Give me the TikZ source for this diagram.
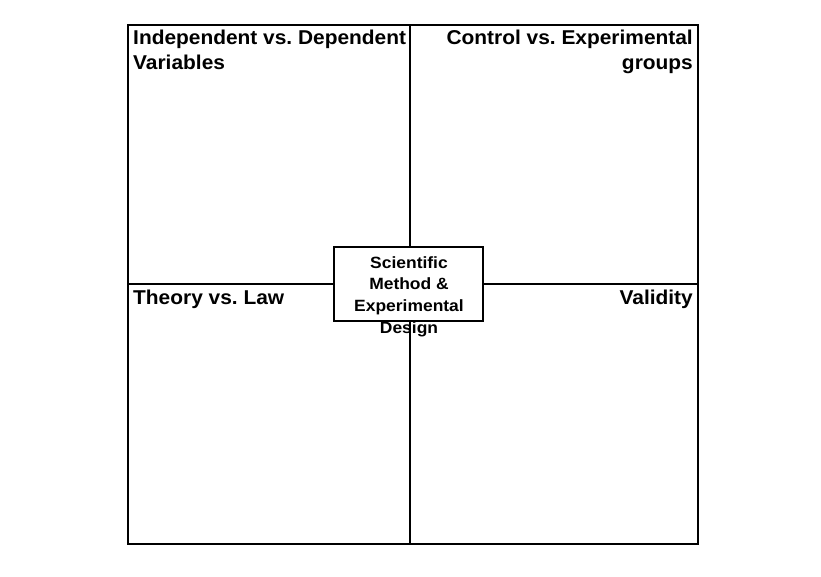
\documentclass[tikz,border=0pt]{standalone}
\usepackage{fontspec}
\setmainfont{Liberation Sans}
\newfontfamily\widesans[FakeStretch=1.045]{Liberation Sans}
\newfontfamily\widersans[FakeStretch=1.07]{Liberation Sans}
\frenchspacing
\tikzset{
  quadlabel/.style={inner sep=0pt, font=\widesans\bfseries\fontsize{20}{25}\selectfont},
  centerbox/.style={draw, line width=2.8pt, fill=white, minimum width=149pt, minimum height=74pt, inner sep=0pt},
  centertext/.style={inner sep=0pt, align=center, font=\widersans\bfseries\fontsize{16.3}{21.7}\selectfont},
  divider/.style={line width=1.6pt},
}
\begin{document}
\begin{tikzpicture}[x=1pt,y=-1pt]
\useasboundingbox (0,0) rectangle (821,576);
\coordinate (tl) at (128,25);
\coordinate (br) at (698,544);
\coordinate (tm) at (410,25);
\coordinate (bm) at (410,544);
\coordinate (lm) at (128,284);
\coordinate (rm) at (698,284);
\draw[divider] (tm) -- (bm);
\draw[divider] (lm) -- (rm);
\draw[line width=2.2pt] (tl) rectangle (br);
\node[centerbox] (box) at (408.5,284) {};
\node[centertext, anchor=north] (center) at (409,256) {Scientific\\Method \&\\Experimental\\Design};
\node[quadlabel, anchor=north west, align=left] (q1) at (133,30) {Independent vs. Dependent\\Variables};
\node[quadlabel, anchor=north east, align=right] (q2) at (693,30) {Control vs. Experimental\\groups};
\node[quadlabel, anchor=north west] (q3) at (133,290) {Theory vs. Law};
\node[quadlabel, anchor=north east] (q4) at (693,290) {Validity};
\end{tikzpicture}
\end{document}
